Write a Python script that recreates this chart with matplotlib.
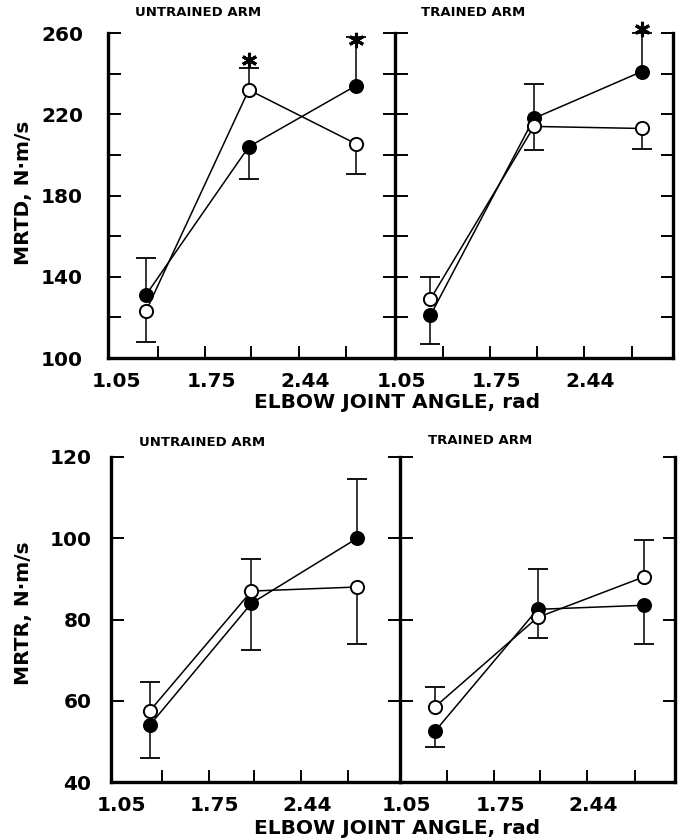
import matplotlib
matplotlib.use('Agg')
import matplotlib.pyplot as plt
import matplotlib.transforms as mtransforms
import numpy as np

# Elbow joint angles (rad) at which the contractions were tested
angles = [1.31, 2.07, 2.86]

# MRTD (N·m/s): closed = post-training, open = pre-training
mrtd_untr_closed = [131, 204, 234]
mrtd_untr_open = [123, 232, 205.5]
mrtd_tr_closed = [121, 218, 241]
mrtd_tr_open = [129, 214, 213]

# MRTR (N·m/s)
mrtr_untr_closed = [54, 84, 100]
mrtr_untr_open = [57.5, 87, 88]
mrtr_tr_closed = [52.5, 82.5, 83.5]
mrtr_tr_open = [58.5, 80.5, 90.5]

# SE, sign tells on which side of the mean the bar is drawn
mrtd_untr_closed_se = [18, -16, 24]
mrtd_untr_open_se = [-15, 11, -15]
mrtd_tr_closed_se = [-14, 17, 19]
mrtd_tr_open_se = [11, -11.5, -10]
mrtr_untr_closed_se = [-8, -11.5, 14.5]
mrtr_untr_open_se = [7, 8, -14]
mrtr_tr_closed_se = [-4, 10, -9.5]
mrtr_tr_open_se = [5, -5, 9]

# significant differences (angle, height of the asterisk)
mrtd_untr_sig = ([2.07, 2.86], [246.5, 256.5])
mrtd_tr_sig = ([2.86], [262])

x_major = [1.05, 1.75, 2.44]
x_minor = [1.40, 2.09, 2.79]

plt.rcParams['font.family'] = 'DejaVu Sans'
plt.rcParams['font.weight'] = 'bold'

fig = plt.figure(figsize=(6.87, 8.40), dpi=100)
W, H = 687.0, 840.0


def box(x0, x1, ytop, ybot):
    return [x0 / W, 1 - ybot / H, (x1 - x0) / W, (ybot - ytop) / H]


ax_tl = fig.add_axes(box(108, 395, 33, 358))
ax_tr = fig.add_axes(box(395, 673, 33, 358))
ax_bl = fig.add_axes(box(111, 400, 457, 782))
ax_br = fig.add_axes(box(400, 675, 457, 782))

shift = mtransforms.ScaledTranslation(6 / 100, 0, fig.dpi_scale_trans)


def series(ax, closed, closed_se, opened, opened_se):
    for vals, se in ((closed, closed_se), (opened, opened_se)):
        vals = np.array(vals, dtype=float)
        ends = vals + np.array(se, dtype=float)
        ax.vlines(angles, vals, ends, color='black', lw=1.1, zorder=2)
        ax.plot(angles, ends, ls='none', marker='_', ms=14, mew=1.3,
                color='black', zorder=2, clip_on=False)
    ax.plot(angles, closed, '-o', color='black', lw=1.1, ms=9.5,
            mfc='black', mec='black', mew=1.3, zorder=3)
    ax.plot(angles, opened, '-o', color='black', lw=1.1, ms=9.5,
            mfc='white', mec='black', mew=1.4, zorder=4)


def style(ax, xlim, ylim, ymajor, yminor, left_labels, ypad):
    ax.set_xlim(*xlim)
    ax.set_ylim(*ylim)
    ax.spines['top'].set_visible(False)
    for side in ('left', 'right', 'bottom'):
        ax.spines[side].set_linewidth(2.4)
    ax.set_xticks(x_major)
    ax.set_xticklabels(['%.2f' % v for v in x_major])
    ax.set_xticks(x_minor, minor=True)
    ax.set_yticks(ymajor)
    ax.set_yticks(yminor, minor=True)
    ax.tick_params(axis='both', which='both', direction='in', length=9,
                   width=1.4, labelsize=14.5)
    ax.tick_params(axis='y', which='both', left=True, right=True,
                   labelleft=left_labels, pad=ypad)
    ax.tick_params(axis='x', which='both', top=False, pad=10)
    # the 1.05 mark sits on the spine, only its label is wanted
    ax.xaxis.get_major_ticks()[0].tick1line.set_visible(False)
    for lab in ax.get_xticklabels():
        lab.set_fontweight('bold')
        lab.set_transform(lab.get_transform() + shift)
    for lab in ax.get_yticklabels():
        lab.set_fontweight('bold')


# top row: MRTD
series(ax_tl, mrtd_untr_closed, mrtd_untr_closed_se, mrtd_untr_open, mrtd_untr_open_se)
series(ax_tr, mrtd_tr_closed, mrtd_tr_closed_se, mrtd_tr_open, mrtd_tr_open_se)
style(ax_tl, (1.03, 3.15), (100, 260), [100, 140, 180, 220, 260],
      [120, 160, 200, 240], True, 18)
style(ax_tr, (1.05, 3.09), (100, 260), [100, 140, 180, 220, 260],
      [120, 160, 200, 240], False, 18)
ax_tl.spines['right'].set_visible(False)

# bottom row: MRTR
series(ax_bl, mrtr_untr_closed, mrtr_untr_closed_se, mrtr_untr_open, mrtr_untr_open_se)
series(ax_br, mrtr_tr_closed, mrtr_tr_closed_se, mrtr_tr_open, mrtr_tr_open_se)
style(ax_bl, (1.02, 3.18), (40, 120), [40, 60, 80, 100, 120], [], True, 14)
style(ax_br, (1.05, 3.09), (40, 120), [40, 60, 80, 100, 120], [], False, 14)
ax_bl.spines['right'].set_visible(False)

# asterisks for significant differences
for ax, (sx, sy) in ((ax_tl, mrtd_untr_sig), (ax_tr, mrtd_tr_sig)):
    ax.plot(sx, sy, ls='none', marker=(6, 2, 0), ms=11, mew=2.2,
            color='black', clip_on=False, zorder=5)

# panel titles
fig.text(198 / W, 1 - 13 / H, 'UNTRAINED ARM', ha='center', va='center',
         fontsize=9.5, fontweight='bold')
fig.text(473 / W, 1 - 13 / H, 'TRAINED ARM', ha='center', va='center',
         fontsize=9.5, fontweight='bold')
fig.text(202 / W, 1 - 442 / H, 'UNTRAINED ARM', ha='center', va='center',
         fontsize=9.5, fontweight='bold')
fig.text(480 / W, 1 - 440 / H, 'TRAINED ARM', ha='center', va='center',
         fontsize=9.5, fontweight='bold')

# axis titles
fig.text(24 / W, 1 - 193 / H, 'MRTD, N\u00b7m/s', rotation=90, ha='center',
         va='center', fontsize=14.5, fontweight='bold')
fig.text(24 / W, 1 - 613 / H, 'MRTR, N\u00b7m/s', rotation=90, ha='center',
         va='center', fontsize=14.5, fontweight='bold')
fig.text(397 / W, 1 - 402 / H, 'ELBOW JOINT ANGLE, rad', ha='center',
         va='center', fontsize=14.5, fontweight='bold')
fig.text(397 / W, 1 - 829 / H, 'ELBOW JOINT ANGLE, rad', ha='center',
         va='center', fontsize=14.5, fontweight='bold')

fig.savefig('out.png', dpi=100)
